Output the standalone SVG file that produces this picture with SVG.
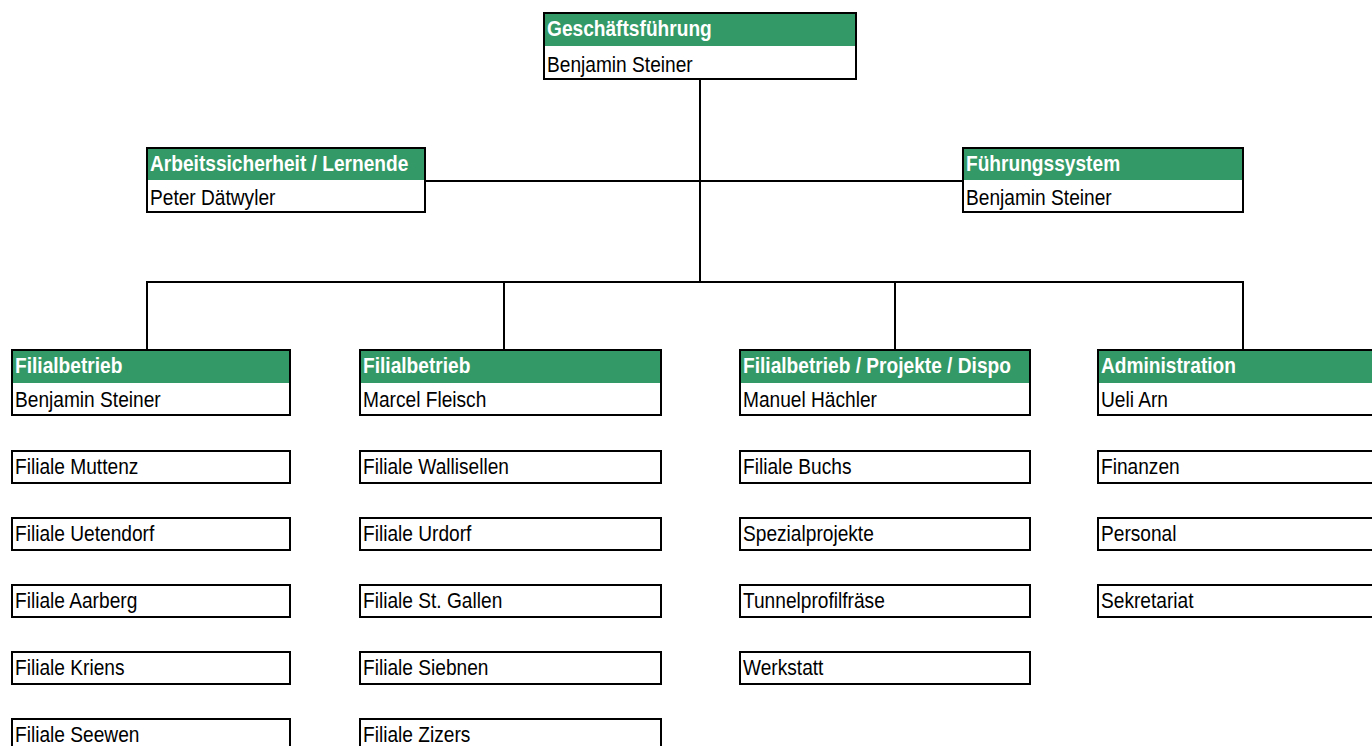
<svg xmlns="http://www.w3.org/2000/svg" width="1372" height="746" viewBox="0 0 1372 746">
<style>
.bg{fill:#ffffff}
.box{fill:none;stroke:#000;stroke-width:2}
.hd{fill:#339966}
.ln{stroke:#000;stroke-width:2;fill:none}
.t{font-family:"Liberation Sans",Arial,sans-serif;font-size:22px;fill:#000}
.h{font-family:"Liberation Sans",Arial,sans-serif;font-size:22px;font-weight:bold;fill:#fff}
</style>
<rect class="bg" x="0" y="0" width="1372" height="746"/>
<g id="connectors">
<path class="ln" d="M700 80 V282"/>
<path class="ln" d="M426 181 H962"/>
<path class="ln" d="M146 282 H1244"/>
<path class="ln" d="M147 281 V349"/>
<path class="ln" d="M504 282 V349"/>
<path class="ln" d="M895 282 V349"/>
<path class="ln" d="M1243 281 V349"/>
</g>
<g id="n-gf">
<rect class="hd" x="544" y="13" width="312" height="33"/>
<rect class="box" x="544" y="13" width="312" height="66"/>
<text class="h" transform="translate(547 36) scale(0.87 1)">Geschäftsführung</text>
<text class="t" transform="translate(547 71.5) scale(0.87 1)">Benjamin Steiner</text>
</g>
<g id="n-as">
<rect class="hd" x="147" y="148" width="278" height="32"/>
<rect class="box" x="147" y="148" width="278" height="64"/>
<text class="h" transform="translate(150 171) scale(0.87 1)">Arbeitssicherheit / Lernende</text>
<text class="t" transform="translate(150 205) scale(0.87 1)">Peter Dätwyler</text>
</g>
<g id="n-fs">
<rect class="hd" x="963" y="148" width="280" height="32"/>
<rect class="box" x="963" y="148" width="280" height="64"/>
<text class="h" transform="translate(966 171) scale(0.87 1)">Führungssystem</text>
<text class="t" transform="translate(966 205) scale(0.87 1)">Benjamin Steiner</text>
</g>
<g id="n-fb1">
<rect class="hd" x="12" y="350" width="278" height="33"/>
<rect class="box" x="12" y="350" width="278" height="65"/>
<text class="h" transform="translate(15 372.5) scale(0.87 1)">Filialbetrieb</text>
<text class="t" transform="translate(15 407) scale(0.87 1)">Benjamin Steiner</text>
</g>
<g id="n-fb2">
<rect class="hd" x="360" y="350" width="301" height="33"/>
<rect class="box" x="360" y="350" width="301" height="65"/>
<text class="h" transform="translate(363 372.5) scale(0.87 1)">Filialbetrieb</text>
<text class="t" transform="translate(363 407) scale(0.87 1)">Marcel Fleisch</text>
</g>
<g id="n-fb3">
<rect class="hd" x="740" y="350" width="290" height="33"/>
<rect class="box" x="740" y="350" width="290" height="65"/>
<text class="h" transform="translate(743 372.5) scale(0.87 1)">Filialbetrieb / Projekte / Dispo</text>
<text class="t" transform="translate(743 407) scale(0.87 1)">Manuel Hächler</text>
</g>
<g id="n-adm">
<rect class="hd" x="1098" y="350" width="280" height="33"/>
<rect class="box" x="1098" y="350" width="280" height="65"/>
<text class="h" transform="translate(1101 372.5) scale(0.87 1)">Administration</text>
<text class="t" transform="translate(1101 407) scale(0.87 1)">Ueli Arn</text>
</g>
<g id="n-muttenz"><rect class="box" x="12" y="451" width="278" height="32"/><text class="t" transform="translate(15 473.5) scale(0.87 1)">Filiale Muttenz</text></g>
<g id="n-uetendorf"><rect class="box" x="12" y="518" width="278" height="32"/><text class="t" transform="translate(15 540.5) scale(0.87 1)">Filiale Uetendorf</text></g>
<g id="n-aarberg"><rect class="box" x="12" y="585" width="278" height="32"/><text class="t" transform="translate(15 607.5) scale(0.87 1)">Filiale Aarberg</text></g>
<g id="n-kriens"><rect class="box" x="12" y="652" width="278" height="32"/><text class="t" transform="translate(15 674.5) scale(0.87 1)">Filiale Kriens</text></g>
<g id="n-seewen"><rect class="box" x="12" y="719" width="278" height="32"/><text class="t" transform="translate(15 741.5) scale(0.87 1)">Filiale Seewen</text></g>
<g id="n-wallisellen"><rect class="box" x="360" y="451" width="301" height="32"/><text class="t" transform="translate(363 473.5) scale(0.87 1)">Filiale Wallisellen</text></g>
<g id="n-urdorf"><rect class="box" x="360" y="518" width="301" height="32"/><text class="t" transform="translate(363 540.5) scale(0.87 1)">Filiale Urdorf</text></g>
<g id="n-stgallen"><rect class="box" x="360" y="585" width="301" height="32"/><text class="t" transform="translate(363 607.5) scale(0.87 1)">Filiale St. Gallen</text></g>
<g id="n-siebnen"><rect class="box" x="360" y="652" width="301" height="32"/><text class="t" transform="translate(363 674.5) scale(0.87 1)">Filiale Siebnen</text></g>
<g id="n-zizers"><rect class="box" x="360" y="719" width="301" height="32"/><text class="t" transform="translate(363 741.5) scale(0.87 1)">Filiale Zizers</text></g>
<g id="n-buchs"><rect class="box" x="740" y="451" width="290" height="32"/><text class="t" transform="translate(743 473.5) scale(0.87 1)">Filiale Buchs</text></g>
<g id="n-spezial"><rect class="box" x="740" y="518" width="290" height="32"/><text class="t" transform="translate(743 540.5) scale(0.87 1)">Spezialprojekte</text></g>
<g id="n-tunnel"><rect class="box" x="740" y="585" width="290" height="32"/><text class="t" transform="translate(743 607.5) scale(0.87 1)">Tunnelprofilfräse</text></g>
<g id="n-werkstatt"><rect class="box" x="740" y="652" width="290" height="32"/><text class="t" transform="translate(743 674.5) scale(0.87 1)">Werkstatt</text></g>
<g id="n-finanzen"><rect class="box" x="1098" y="451" width="280" height="32"/><text class="t" transform="translate(1101 473.5) scale(0.87 1)">Finanzen</text></g>
<g id="n-personal"><rect class="box" x="1098" y="518" width="280" height="32"/><text class="t" transform="translate(1101 540.5) scale(0.87 1)">Personal</text></g>
<g id="n-sekretariat"><rect class="box" x="1098" y="585" width="280" height="32"/><text class="t" transform="translate(1101 607.5) scale(0.87 1)">Sekretariat</text></g>
</svg>
